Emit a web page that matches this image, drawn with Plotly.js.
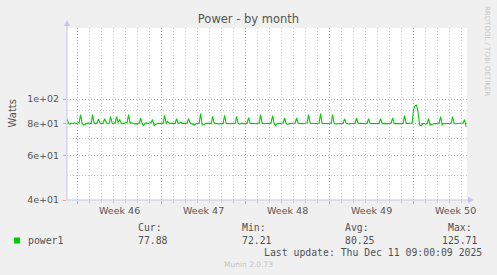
<!DOCTYPE html>
<html><head><meta charset="utf-8">
<script src="https://cdn.plot.ly/plotly-3.0.1.min.js"></script>
<style>html,body{margin:0;padding:0;background:#f0f0f0;}#chart{width:497px;height:275px;}</style>
</head><body><div id="chart"></div>
<script>
// ---- data ----
const seriesName = 'power1';
const seriesStart = Date.UTC(2025, 10, 8, 3, 0, 0); // Nov 8 03:00, 3-hour steps
const stepHours = 3;
const power1 = [
  83.3, 80.0, 79.6, 80.4, 80.1, 80.6, 79.9,
  80.2, 80.8, 86.8, 80.0, 78.9, 79.4, 80.1, 80.5,
  80.3, 80.0, 86.8, 80.4, 79.8, 80.6, 83.5, 80.2,
  80.0, 80.5, 83.7, 80.9, 80.3, 80.1, 85.2, 80.4,
  80.1, 80.6, 85.2, 80.8, 83.0, 80.4, 80.0, 80.2,
  80.5, 80.9, 86.8, 80.3, 80.6, 80.1, 79.7, 80.0,
  79.8, 80.2, 84.0, 80.0, 78.8, 80.2, 80.5, 80.1,
  80.3, 80.8, 83.0, 78.4, 79.6, 80.2, 80.3, 80.0,
  80.4, 80.1, 86.3, 80.2, 81.6, 80.3, 80.0, 80.2,
  80.0, 80.3, 83.7, 80.1, 80.4, 81.0, 80.2, 80.0,
  80.2, 80.5, 83.7, 80.4, 80.1, 79.4, 79.0, 80.1,
  80.0, 80.3, 87.6, 79.2, 79.0, 80.1, 80.3, 80.0,
  80.2, 80.0, 85.4, 80.4, 80.1, 80.0, 79.8, 80.1,
  80.3, 80.0, 86.3, 80.2, 80.0, 79.9, 80.1, 80.0,
  80.1, 80.2, 85.4, 80.0, 79.6, 80.2, 80.0, 80.1,
  80.0, 80.4, 84.5, 80.2, 80.0, 80.3, 80.1, 80.0,
  80.2, 80.5, 86.8, 80.3, 80.0, 79.8, 80.1, 80.2,
  80.0, 80.6, 86.0, 80.1, 78.6, 80.0, 80.2, 80.0,
  80.3, 80.5, 84.2, 80.0, 79.4, 80.1, 80.0, 80.2,
  80.0, 80.4, 84.2, 80.3, 80.1, 79.8, 80.0, 80.1,
  80.2, 80.6, 86.8, 80.4, 80.1, 80.0, 79.8, 80.0,
  80.1, 80.5, 87.6, 80.2, 80.0, 80.3, 80.1, 80.0,
  80.2, 80.4, 86.8, 80.0, 79.8, 80.0, 80.2, 80.1,
  80.0, 80.3, 83.5, 80.2, 80.0, 79.7, 80.1, 80.0,
  80.1, 80.3, 84.2, 80.0, 80.3, 80.1, 80.0, 80.2,
  80.0, 80.4, 83.7, 80.2, 80.0, 79.9, 80.1, 80.0,
  80.1, 80.3, 83.7, 80.0, 80.2, 80.0, 79.8, 80.0,
  80.2, 80.4, 84.2, 80.1, 80.0, 80.2, 80.0, 80.1,
  80.0, 80.3, 86.0, 80.2, 80.0, 80.1, 79.9, 80.4,
  91.0, 94.0, 94.6, 88.5, 79.0, 78.3, 80.0, 80.2,
  79.6, 80.1, 83.7, 79.0, 79.4, 80.0, 80.1, 80.0,
  80.1, 80.4, 85.2, 79.2, 80.0, 80.1, 80.0, 80.2,
  80.0, 80.3, 85.2, 80.1, 79.9, 80.0, 80.2, 80.1,
  80.1, 80.4, 83.0, 77.9
];
const weekLabels = ['Week 46', 'Week 47', 'Week 48', 'Week 49', 'Week 50'];
const weekCenters = ['2025-11-12 12:00', '2025-11-19 12:00', '2025-11-26 12:00', '2025-12-03 12:00', '2025-12-10 12:00'];
const weekStarts = ['2025-11-09', '2025-11-16', '2025-11-23', '2025-11-30', '2025-12-07'];
const yTickVals = [40, 60, 80, 100];
const yTickText = ['4e+01', '6e+01', '8e+01', '1e+02'];
const yMinorVals = [50, 70, 90];
const statLabels = ['Cur:', 'Min:', 'Avg:', 'Max:'];
const statValues = ['77.88', '72.21', '80.25', '125.71'];
const lastUpdate = 'Last update: Thu Dec 11 09:00:09 2025';
const footer = 'Munin 2.0.73';
const sideText = 'RRDTOOL / TOBI OETIKER';

// ---- build ----
const times = power1.map((v, i) => new Date(seriesStart + i * stepHours * 3600000).toISOString().slice(0, 19).replace('T', ' '));

const L = 67, T = 28, PW = 400, PH = 172;
const X = px => (px - L) / PW;
const Y = py => (T + PH - py) / PH;

const pink = '#e39a9a', gray = '#cccccc', axisBlue = '#c4c4ee';
const mono = 'DejaVu Sans Mono';

const annotations = [];
annotations.push({xref: 'paper', yref: 'paper', x: X(11.5), y: Y(113), text: 'Watts', textangle: -90,
  showarrow: false, xanchor: 'center', yanchor: 'middle', font: {family: 'DejaVu Sans', size: 10, color: '#555'}});
annotations.push({xref: 'paper', yref: 'paper', x: X(26), y: Y(240), text: seriesName,
  showarrow: false, xanchor: 'left', yanchor: 'middle', font: {family: mono, size: 9.8, color: '#505050'}});
const labelX = [136, 239.5, 342.5, 446];
const valueX = [136, 239.5, 342.5, 440];
statLabels.forEach((s, i) => annotations.push({xref: 'paper', yref: 'paper', x: X(labelX[i]), y: Y(227.5), text: s,
  showarrow: false, xanchor: 'left', yanchor: 'middle', font: {family: mono, size: 9.8, color: '#505050'}}));
statValues.forEach((s, i) => annotations.push({xref: 'paper', yref: 'paper', x: X(valueX[i]), y: Y(240), text: s,
  showarrow: false, xanchor: 'left', yanchor: 'middle', font: {family: mono, size: 9.8, color: '#505050'}}));
annotations.push({xref: 'paper', yref: 'paper', x: X(483.5), y: Y(252), text: lastUpdate,
  showarrow: false, xanchor: 'right', yanchor: 'middle', font: {family: mono, size: 9.8, color: '#505050'}});
annotations.push({xref: 'paper', yref: 'paper', x: X(248), y: Y(264), text: footer,
  showarrow: false, xanchor: 'center', yanchor: 'middle', font: {family: 'DejaVu Sans', size: 7.5, color: '#c4c4c4'}});
annotations.push({xref: 'paper', yref: 'paper', x: X(487), y: Y(51), text: sideText, textangle: 90,
  showarrow: false, xanchor: 'center', yanchor: 'middle', font: {family: 'DejaVu Sans', size: 7, color: '#c8c8c8'}});

const shapes = [
  {type: 'line', xref: 'paper', yref: 'paper', x0: X(67), x1: X(67), y0: Y(200), y1: Y(24), line: {color: axisBlue, width: 1}},
  {type: 'path', xref: 'paper', yref: 'paper', path: `M ${X(64)} ${Y(26)} L ${X(70)} ${Y(26)} L ${X(67)} ${Y(20)} Z`, fillcolor: axisBlue, line: {width: 0}},
  {type: 'line', xref: 'paper', yref: 'paper', x0: X(67), x1: X(470), y0: Y(200), y1: Y(200), line: {color: axisBlue, width: 1}},
  {type: 'path', xref: 'paper', yref: 'paper', path: `M ${X(468)} ${Y(197)} L ${X(468)} ${Y(203)} L ${X(474)} ${Y(200)} Z`, fillcolor: axisBlue, line: {width: 0}},
  {type: 'rect', xref: 'paper', yref: 'paper', x0: X(14), x1: X(20), y0: Y(243.5), y1: Y(237.5), fillcolor: '#00cc00', line: {width: 0}}
];

const xRange = ['2025-11-08 02:48', '2025-12-11 10:48'];

const data = [
  {type: 'scatter', mode: 'lines', x: times, y: power1, name: seriesName,
   line: {color: '#00cc00', width: 1.1}, hoverinfo: 'skip'},
  // placeholder trace (no drawn points) so the label axis x2 exists
  {type: 'scatter', mode: 'lines', x: weekCenters, y: weekCenters.map(() => null), xaxis: 'x2', yaxis: 'y',
   hoverinfo: 'skip', showlegend: false, line: {color: 'rgba(0,0,0,0)'}}
];

const layout = {
  width: 497, height: 275,
  paper_bgcolor: '#f0f0f0', plot_bgcolor: '#ffffff',
  margin: {l: L, r: 497 - L - PW, t: T, b: 275 - T - PH, pad: 0},
  showlegend: false,
  font: {family: 'DejaVu Sans', color: '#555'},
  title: {text: 'Power - by month', font: {family: 'DejaVu Sans', size: 11.5, color: '#555'},
    x: 0.5, xref: 'container', xanchor: 'center', y: 1 - 19 / 275, yref: 'container', yanchor: 'middle'},
  xaxis: {
    type: 'date', range: xRange, fixedrange: true,
    tickmode: 'array', tickvals: weekStarts, showticklabels: false,
    showgrid: true, gridcolor: pink, griddash: '1px,2px', gridwidth: 1,
    ticks: 'outside', ticklen: 3, tickcolor: pink, showline: false, zeroline: false,
    minor: {dtick: 86400000, tick0: '2025-11-09', showgrid: true, gridcolor: gray, griddash: '1px,2px', gridwidth: 1,
      ticks: 'outside', ticklen: 2, tickcolor: '#c8c8c8'}
  },
  xaxis2: {
    type: 'date', range: xRange, overlaying: 'x', anchor: 'y', side: 'bottom', fixedrange: true,
    tickmode: 'array', tickvals: weekCenters, ticktext: weekLabels,
    showgrid: false, ticks: '', showline: false, zeroline: false,
    tickfont: {family: 'DejaVu Sans', size: 9.5, color: '#555'},
    ticklabelstandoff: 3
  },
  yaxis: {
    type: 'log', range: [Math.log10(40), Math.log10(190.5)], fixedrange: true,
    tickmode: 'array', tickvals: yTickVals, ticktext: yTickText,
    showgrid: true, gridcolor: pink, griddash: '1px,2px', gridwidth: 1,
    ticks: 'outside', ticklen: 3, tickcolor: pink, showline: false, zeroline: false,
    tickfont: {family: 'DejaVu Sans', size: 9.5, color: '#555'},
    ticklabelstandoff: 2,
    minor: {tickvals: yMinorVals, showgrid: true, gridcolor: gray, griddash: '1px,2px', gridwidth: 1, ticks: ''}
  },
  annotations: annotations,
  shapes: shapes
};

Plotly.newPlot('chart', data, layout, {staticPlot: true, displayModeBar: false});
</script>
</body></html>
